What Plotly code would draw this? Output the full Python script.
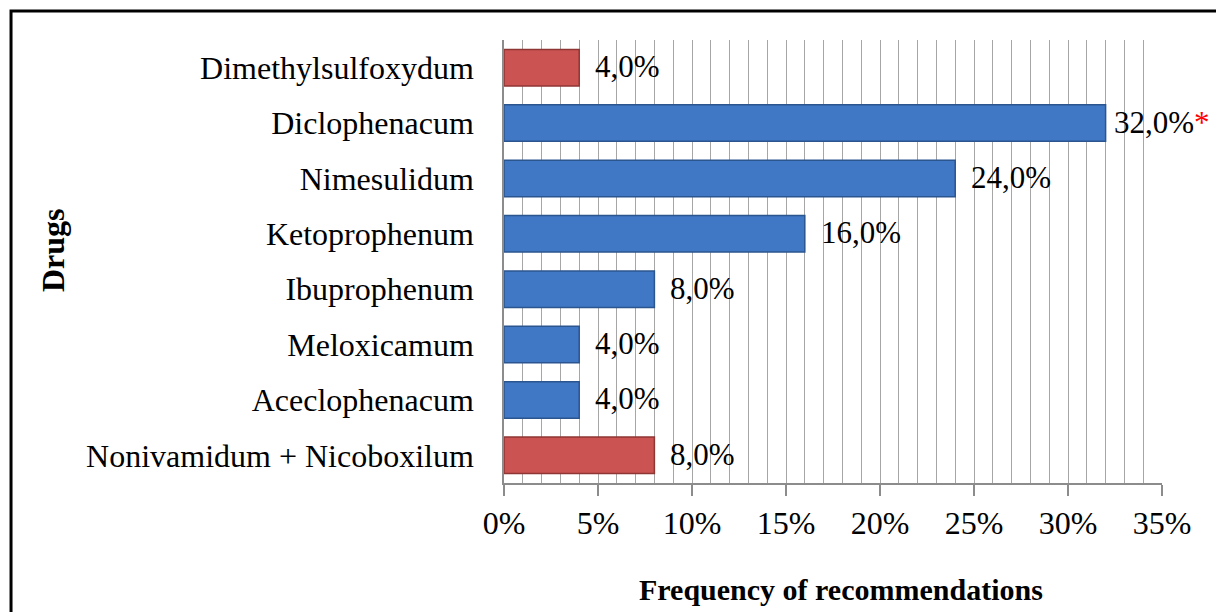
import plotly.graph_objects as go

drugs = ["Dimethylsulfoxydum", "Diclophenacum", "Nimesulidum", "Ketoprophenum",
         "Ibuprophenum", "Meloxicamum", "Aceclophenacum", "Nonivamidum + Nicoboxilum"]
values = [4.0, 32.0, 24.0, 16.0, 8.0, 4.0, 4.0, 8.0]
groups = ["red", "blue", "blue", "blue", "blue", "blue", "blue", "red"]
labels = ["4,0%", "32,0%", "24,0%", "16,0%", "8,0%", "4,0%", "4,0%", "8,0%"]
marks = ["", "*", "", "", "", "", "", ""]
x_ticks = [0, 5, 10, 15, 20, 25, 30, 35]
x_tick_text = ["0%", "5%", "10%", "15%", "20%", "25%", "30%", "35%"]

fill = {"red": "#CB5351", "blue": "#4178C6"}
edge = {"red": "#8E3634", "blue": "#2B558F"}

FONT = "Liberation Serif, Times New Roman, serif"

fig = go.Figure()
fig.add_trace(go.Bar(
    y=drugs, x=values, orientation="h",
    marker=dict(color=[fill[g] for g in groups],
                line=dict(color=[edge[g] for g in groups], width=1.5)),
    width=0.66, hoverinfo="skip", showlegend=False,
))

for d, v, lab, m in zip(drugs, values, labels, marks):
    txt = lab + (f"<span style='color:#FF0000'>{m}</span>" if m else "")
    fig.add_annotation(x=v, y=d, xref="x", yref="y", text=txt, showarrow=False,
                       xanchor="left", yanchor="middle", xshift=6 if m else 14, yshift=1,
                       font=dict(family=FONT, size=31, color="#000000"))

fig.update_layout(
    width=1216, height=612,
    margin=dict(l=504, r=54, t=40, b=129),
    paper_bgcolor="white", plot_bgcolor="white",
    font=dict(family=FONT, size=31, color="#000000"),
    bargap=0.34,
    xaxis=dict(range=[0, 35], tickvals=x_ticks, ticktext=x_tick_text,
               showgrid=True, gridcolor="#A6A6A6", gridwidth=1,
               minor=dict(dtick=1, showgrid=True, gridcolor="#A6A6A6", gridwidth=1, ticks=""),
               ticks="outside", ticklen=11, tickcolor="#8C8C8C", tickwidth=1.5,
               showline=True, linecolor="#8C8C8C", linewidth=1.5,
               zeroline=False, ticklabelstandoff=0, fixedrange=True,
               tickfont=dict(family=FONT, size=32)),
    yaxis=dict(categoryorder="array", categoryarray=drugs[::-1],
               showgrid=False, ticks="", showline=True, linecolor="#8C8C8C", linewidth=1.5,
               ticklabelstandoff=22, fixedrange=True,
               tickfont=dict(family=FONT, size=32)),
)

# axis titles
fig.add_annotation(x=0.512, y=-0.2415, xref="paper", yref="paper", text="<b>Frequency of recommendations</b>",
                   showarrow=False, xanchor="center", yanchor="middle",
                   font=dict(family=FONT, size=30, color="#000000"))
fig.add_annotation(x=-0.6854, y=0.526, xref="paper", yref="paper", text="<b>Drugs</b>",
                   showarrow=False, textangle=-90, xanchor="center", yanchor="middle",
                   font=dict(family=FONT, size=32, color="#000000"))

# outer frame
fig.add_shape(type="rect", xref="paper", yref="paper",
              x0=-0.7492, x1=1.2, y0=-0.33, y1=1.0655,
              line=dict(color="#000000", width=3), fillcolor="rgba(0,0,0,0)", layer="above")

fig.write_html("out.html", config={"displayModeBar": False},
               post_script="document.body.style.margin='0';document.body.style.overflow='hidden';")
